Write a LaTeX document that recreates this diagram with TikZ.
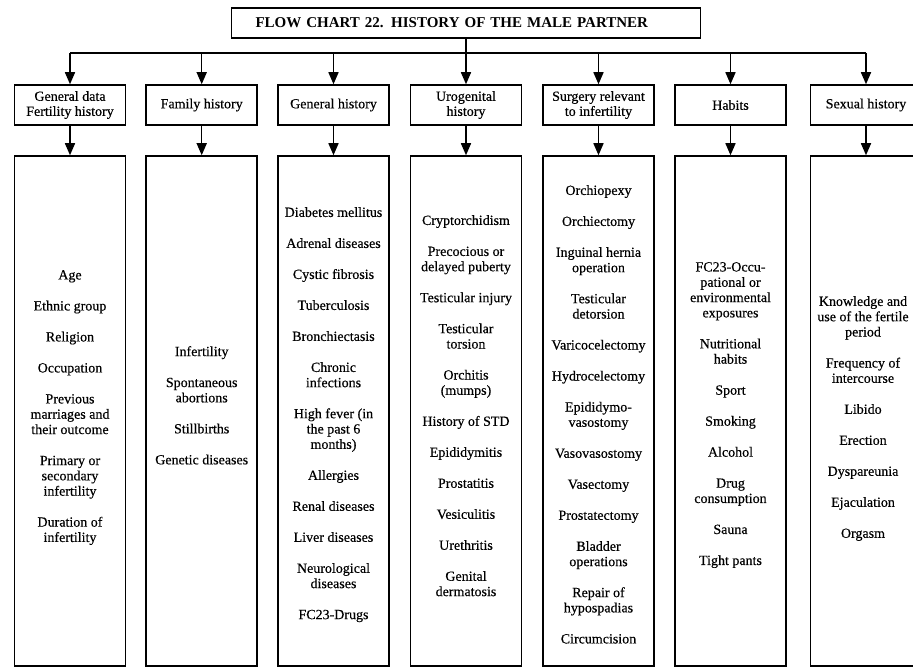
\documentclass[tikz,border=0pt]{standalone}
\usepackage{fontspec}
\setmainfont{Liberation Serif}
\newfontfamily\inkfont{Liberation Serif}[FakeBold=0.4]
\usetikzlibrary{arrows.meta}
% gap between two entries of a list
\newcommand{\nx}{\\[15.7pt]}
\begin{document}
\begin{tikzpicture}[x=1pt,y=-1pt,
  frame/.style={draw,line width=1.5pt,inner sep=0pt},
  titlebox/.style={frame,minimum width=469pt,minimum height=30pt,inner xsep=24pt,
    text width=421pt,align=left,font=\fontsize{15}{17}\selectfont\bfseries},
  head/.style={frame,minimum width=111pt,minimum height=40pt,align=center,
    font=\inkfont\fontsize{14}{15}\selectfont},
  body/.style={frame,minimum width=111pt,minimum height=510pt},
  list/.style={anchor=north,inner sep=0pt,align=center,
    font=\inkfont\fontsize{14}{15.3}\selectfont},
  arr/.style={line width=1.5pt,-{Triangle[length=12pt,width=10pt]}},
  bus/.style={line width=1.5pt}]
\useasboundingbox (0,0) rectangle (913,668);
\clip (0,0) rectangle (913,668);
\fill[white] (0,0) rectangle (913,668);

% title
\node[titlebox] (title) at (466,23) {FLOW CHART 22. HISTORY OF THE MALE PARTNER};

% category headers
\node[head] (h1) at (70,105)    {General data\\Fertility history};
\node[head] (h2) at (201.7,105) {Family history};
\node[head] (h3) at (333.5,105) {General history};
\node[head] (h4) at (466,105)   {Urogenital\\history};
\node[head] (h5) at (598.5,105) {Surgery relevant\\to infertility};
\node[head] (h6) at (730.5,105) {Habits};
\node[head] (h7) at (866,105)   {Sexual history};

% list boxes
\node[body] (b1) at (70,411)    {};
\node[body] (b2) at (201.7,411) {};
\node[body] (b3) at (333.5,411) {};
\node[body] (b4) at (466,411)   {};
\node[body] (b5) at (598.5,411) {};
\node[body] (b6) at (730.5,411) {};
\node[body] (b7) at (866,411)   {};

% list contents
\node[list] (t1) at (70,270) {Age\nx Ethnic group\nx Religion\nx Occupation\nx
  Previous\\marriages and\\their outcome\nx Primary or\\secondary\\infertility\nx
  Duration of\\infertility};
\node[list] (t2) at (201.7,346) {Infertility\nx Spontaneous\\abortions\nx Stillbirths\nx
  Genetic diseases};
\node[list] (t3) at (333.5,207) {Diabetes mellitus\nx Adrenal diseases\nx Cystic fibrosis\nx
  Tuberculosis\nx Bronchiectasis\nx Chronic\\infections\nx High fever (in\\the past 6\\months)\nx
  Allergies\nx Renal diseases\nx Liver diseases\nx Neurological\\diseases\nx FC23-Drugs};
\node[list] (t4) at (466,215) {Cryptorchidism\nx Precocious or\\delayed puberty\nx
  Testicular injury\nx Testicular\\torsion\nx Orchitis\\(mumps)\nx History of STD\nx
  Epididymitis\nx Prostatitis\nx Vesiculitis\nx Urethritis\nx Genital\\dermatosis};
\node[list] (t5) at (598.5,185) {Orchiopexy\nx Orchiectomy\nx Inguinal hernia\\operation\nx
  Testicular\\detorsion\nx Varicocelectomy\nx Hydrocelectomy\nx Epididymo-\\vasostomy\nx
  Vasovasostomy\nx Vasectomy\nx Prostatectomy\nx Bladder\\operations\nx
  Repair of\\hypospadias\nx Circumcision};
\node[list] (t6) at (730.5,262) {FC23-Occu-\\pational or\\environmental\\exposures\nx
  Nutritional\\habits\nx Sport\nx Smoking\nx Alcohol\nx Drug\\consumption\nx Sauna\nx
  Tight pants};
\node[list] (t7) at (863,296) {Knowledge and\\use of the fertile\\period\nx
  Frequency of\\intercourse\nx Libido\nx Erection\nx Dyspareunia\nx Ejaculation\nx Orgasm};

% distribution bus
\coordinate (j1) at (70,53);
\coordinate (j2) at (201.7,53);
\coordinate (j3) at (333.5,53);
\coordinate (j5) at (598.5,53);
\coordinate (j6) at (730.5,53);
\coordinate (j7) at (866,53);
\draw[bus] (j1) -- (j7);
\draw[arr] (title.south) -- (h4.north);
\foreach \i in {1,2,3,5,6,7} {\draw[arr] (j\i) -- (h\i.north);}
\foreach \i in {1,...,7} {\draw[arr] (h\i.south) -- (b\i.north);}
\end{tikzpicture}
\end{document}
